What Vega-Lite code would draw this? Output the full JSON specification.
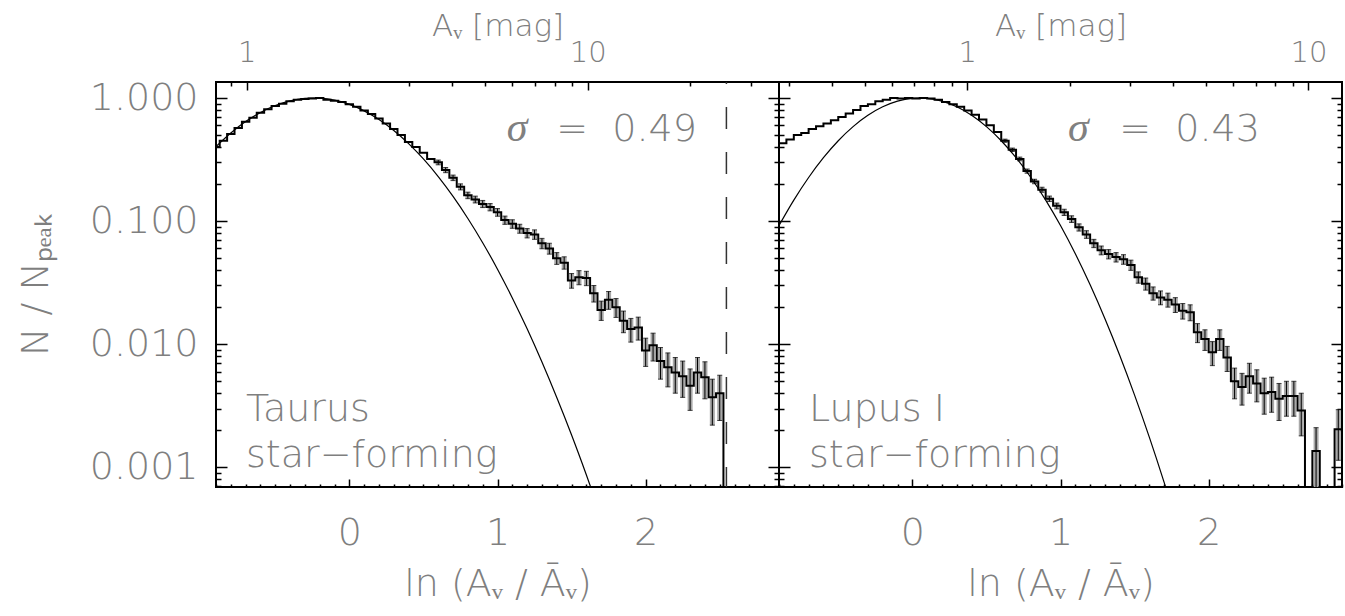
{
"$schema": "https://vega.github.io/schema/vega-lite/v6.json",
"padding": {"left": 16, "top": 9, "right": 0, "bottom": 0},
"background": "white",
"spacing": 0,
"bounds": "flush",
"config": {
  "view": {"stroke": "black", "strokeWidth": 2},
  "axis": {"grid": false, "domain": false, "labelFont": "DejaVu Sans", "labelFontSize": 38, "labelColor": "#7f7f7f", "labelFontWeight": 300, "titleFont": "DejaVu Sans", "titleFontSize": 38, "titleColor": "#7f7f7f", "titleFontWeight": 300, "tickColor": "black", "tickWidth": 1.5, "labelOverlap": false, "labelFlush": false, "labelBound": false}
},
"datasets": {
  "taurus": [
    {"x": -0.90, "y": 0.40}, {"x": -0.85, "y": 0.45}, {"x": -0.80, "y": 0.51}, {"x": -0.75, "y": 0.57},
    {"x": -0.70, "y": 0.64}, {"x": -0.65, "y": 0.69}, {"x": -0.60, "y": 0.76}, {"x": -0.55, "y": 0.81},
    {"x": -0.50, "y": 0.86}, {"x": -0.45, "y": 0.90}, {"x": -0.40, "y": 0.94}, {"x": -0.35, "y": 0.97},
    {"x": -0.30, "y": 0.98}, {"x": -0.25, "y": 0.99}, {"x": -0.20, "y": 1.0}, {"x": -0.15, "y": 0.97},
    {"x": -0.10, "y": 0.95}, {"x": -0.05, "y": 0.93}, {"x": 0.00, "y": 0.89}, {"x": 0.05, "y": 0.85},
    {"x": 0.10, "y": 0.79}, {"x": 0.15, "y": 0.74}, {"x": 0.20, "y": 0.68}, {"x": 0.25, "y": 0.62},
    {"x": 0.30, "y": 0.56}, {"x": 0.35, "y": 0.50}, {"x": 0.40, "y": 0.44}, {"x": 0.45, "y": 0.40},
    {"x": 0.50, "y": 0.36}, {"x": 0.55, "y": 0.32},
    {"x": 0.60, "y": 0.30, "err": 0.0135}, {"x": 0.65, "y": 0.26, "err": 0.0126},
    {"x": 0.70, "y": 0.225, "err": 0.0117}, {"x": 0.75, "y": 0.19, "err": 0.0108},
    {"x": 0.80, "y": 0.162, "err": 0.0099}, {"x": 0.85, "y": 0.150, "err": 0.0096},
    {"x": 0.90, "y": 0.138, "err": 0.0092}, {"x": 0.95, "y": 0.130, "err": 0.0089},
    {"x": 1.00, "y": 0.118, "err": 0.0085}, {"x": 1.05, "y": 0.102, "err": 0.0079},
    {"x": 1.10, "y": 0.095, "err": 0.0076}, {"x": 1.15, "y": 0.087, "err": 0.0073},
    {"x": 1.20, "y": 0.080, "err": 0.0070}, {"x": 1.25, "y": 0.078, "err": 0.0069},
    {"x": 1.30, "y": 0.066, "err": 0.0064}, {"x": 1.35, "y": 0.060, "err": 0.0061},
    {"x": 1.40, "y": 0.050, "err": 0.0055}, {"x": 1.45, "y": 0.046, "err": 0.0053},
    {"x": 1.50, "y": 0.033, "err": 0.0045}, {"x": 1.55, "y": 0.035, "err": 0.0046},
    {"x": 1.60, "y": 0.0345, "err": 0.0046}, {"x": 1.65, "y": 0.026, "err": 0.0040},
    {"x": 1.70, "y": 0.019, "err": 0.0034}, {"x": 1.75, "y": 0.023, "err": 0.0038},
    {"x": 1.80, "y": 0.020, "err": 0.0035}, {"x": 1.85, "y": 0.0155, "err": 0.0031},
    {"x": 1.90, "y": 0.0133, "err": 0.0029}, {"x": 1.95, "y": 0.0137, "err": 0.0029},
    {"x": 2.00, "y": 0.0089, "err": 0.0023}, {"x": 2.05, "y": 0.0098, "err": 0.0025},
    {"x": 2.10, "y": 0.0073, "err": 0.0021}, {"x": 2.15, "y": 0.0065, "err": 0.0020},
    {"x": 2.20, "y": 0.0059, "err": 0.0019}, {"x": 2.25, "y": 0.0055, "err": 0.0018},
    {"x": 2.30, "y": 0.0046, "err": 0.0017}, {"x": 2.35, "y": 0.0059, "err": 0.0019},
    {"x": 2.40, "y": 0.0054, "err": 0.0018}, {"x": 2.45, "y": 0.0037, "err": 0.0015},
    {"x": 2.50, "y": 0.0040, "err": 0.0016}, {"x": 2.55, "y": 0.0001}
  ],
  "taurus_fit": [
    {"x": -0.9, "y": 0.4037}, {"x": -0.8, "y": 0.5204}, {"x": -0.7, "y": 0.6436}, {"x": -0.6, "y": 0.7634},
    {"x": -0.5, "y": 0.8687}, {"x": -0.4, "y": 0.9481}, {"x": -0.3, "y": 0.9925}, {"x": -0.24, "y": 1.0},
    {"x": -0.2, "y": 0.9967}, {"x": -0.1, "y": 0.9600}, {"x": 0.0, "y": 0.8869}, {"x": 0.1, "y": 0.7861},
    {"x": 0.2, "y": 0.6682}, {"x": 0.3, "y": 0.5449}, {"x": 0.4, "y": 0.4261}, {"x": 0.5, "y": 0.3197},
    {"x": 0.6, "y": 0.2301}, {"x": 0.7, "y": 0.1588}, {"x": 0.8, "y": 0.1051}, {"x": 0.9, "y": 0.0668},
    {"x": 1.0, "y": 0.0407}, {"x": 1.1, "y": 0.02377}, {"x": 1.2, "y": 0.01333}, {"x": 1.3, "y": 0.00716},
    {"x": 1.4, "y": 0.00369}, {"x": 1.5, "y": 0.00183}, {"x": 1.6, "y": 0.000867}, {"x": 1.7, "y": 0.000395}
  ],
  "taurus_text": [
    {"x": -0.697, "y": 0.00239, "label": "Taurus"},
    {"x": -0.697, "y": 0.00101, "label": "star−forming"},
    {"x": 1.397, "y": 0.447, "label": "= \u00a00.49"}
  ],
  "taurus_sigma": [{"x": 1.133, "y": 0.447, "label": "σ"}],
  "taurus_cut": [{"x": 2.545}],
  "taurus_av": [{"av": 1}, {"av": 10}],
  "lupus": [
    {"x": -0.925, "y": 0.41}, {"x": -0.875, "y": 0.43}, {"x": -0.825, "y": 0.46}, {"x": -0.775, "y": 0.50},
    {"x": -0.725, "y": 0.52}, {"x": -0.675, "y": 0.56}, {"x": -0.625, "y": 0.59}, {"x": -0.575, "y": 0.62},
    {"x": -0.525, "y": 0.66}, {"x": -0.475, "y": 0.70}, {"x": -0.425, "y": 0.75}, {"x": -0.375, "y": 0.80},
    {"x": -0.325, "y": 0.86}, {"x": -0.275, "y": 0.89}, {"x": -0.225, "y": 0.94}, {"x": -0.175, "y": 0.97},
    {"x": -0.125, "y": 1.0}, {"x": -0.075, "y": 0.99}, {"x": -0.025, "y": 1.0}, {"x": 0.025, "y": 0.99},
    {"x": 0.075, "y": 1.0}, {"x": 0.125, "y": 0.99}, {"x": 0.175, "y": 0.97}, {"x": 0.225, "y": 0.93},
    {"x": 0.275, "y": 0.89}, {"x": 0.325, "y": 0.85}, {"x": 0.375, "y": 0.79}, {"x": 0.425, "y": 0.73},
    {"x": 0.475, "y": 0.67}, {"x": 0.525, "y": 0.60}, {"x": 0.575, "y": 0.53},
    {"x": 0.625, "y": 0.45, "err": 0.0134}, {"x": 0.675, "y": 0.38, "err": 0.0123},
    {"x": 0.725, "y": 0.32, "err": 0.0113}, {"x": 0.775, "y": 0.255, "err": 0.0101},
    {"x": 0.825, "y": 0.21, "err": 0.0092}, {"x": 0.875, "y": 0.18, "err": 0.0085},
    {"x": 0.925, "y": 0.152, "err": 0.0078}, {"x": 0.975, "y": 0.133, "err": 0.0073},
    {"x": 1.025, "y": 0.118, "err": 0.0069}, {"x": 1.075, "y": 0.104, "err": 0.0065},
    {"x": 1.125, "y": 0.089, "err": 0.0060}, {"x": 1.175, "y": 0.078, "err": 0.0056},
    {"x": 1.225, "y": 0.066, "err": 0.0051}, {"x": 1.275, "y": 0.058, "err": 0.0048},
    {"x": 1.325, "y": 0.054, "err": 0.0047}, {"x": 1.375, "y": 0.051, "err": 0.0045},
    {"x": 1.425, "y": 0.049, "err": 0.0044}, {"x": 1.475, "y": 0.044, "err": 0.0042},
    {"x": 1.525, "y": 0.035, "err": 0.0037}, {"x": 1.575, "y": 0.031, "err": 0.0035},
    {"x": 1.625, "y": 0.026, "err": 0.0032}, {"x": 1.675, "y": 0.024, "err": 0.0031},
    {"x": 1.725, "y": 0.023, "err": 0.0030}, {"x": 1.775, "y": 0.021, "err": 0.0029},
    {"x": 1.825, "y": 0.0187, "err": 0.0027}, {"x": 1.875, "y": 0.0182, "err": 0.0027},
    {"x": 1.925, "y": 0.0125, "err": 0.0022}, {"x": 1.975, "y": 0.0110, "err": 0.0021},
    {"x": 2.025, "y": 0.0086, "err": 0.0019}, {"x": 2.075, "y": 0.0110, "err": 0.0021},
    {"x": 2.125, "y": 0.0078, "err": 0.0018}, {"x": 2.175, "y": 0.0050, "err": 0.0014},
    {"x": 2.225, "y": 0.0045, "err": 0.0013}, {"x": 2.275, "y": 0.0055, "err": 0.0015},
    {"x": 2.325, "y": 0.0048, "err": 0.0014}, {"x": 2.375, "y": 0.0040, "err": 0.0013},
    {"x": 2.425, "y": 0.0041, "err": 0.0013}, {"x": 2.475, "y": 0.0036, "err": 0.0012},
    {"x": 2.525, "y": 0.0038, "err": 0.0012}, {"x": 2.575, "y": 0.0038, "err": 0.0012},
    {"x": 2.625, "y": 0.0029, "err": 0.0011}, {"x": 2.675, "y": 0.0001},
    {"x": 2.725, "y": 0.00136, "err": 0.00074}, {"x": 2.775, "y": 0.0001},
    {"x": 2.825, "y": 0.0001}, {"x": 2.875, "y": 0.00204, "err": 0.0009},
    {"x": 2.925, "y": 0.0015}
  ],
  "lupus_fit": [
    {"x": -0.9, "y": 0.0921}, {"x": -0.8, "y": 0.1482}, {"x": -0.7, "y": 0.2262}, {"x": -0.6, "y": 0.3275},
    {"x": -0.5, "y": 0.4497}, {"x": -0.4, "y": 0.5856}, {"x": -0.3, "y": 0.7235}, {"x": -0.2, "y": 0.8478},
    {"x": -0.1, "y": 0.9422}, {"x": 0.0, "y": 0.9934}, {"x": 0.05, "y": 1.0}, {"x": 0.1, "y": 0.9934},
    {"x": 0.2, "y": 0.9422}, {"x": 0.3, "y": 0.8478}, {"x": 0.4, "y": 0.7235}, {"x": 0.5, "y": 0.5856},
    {"x": 0.6, "y": 0.4497}, {"x": 0.7, "y": 0.3275}, {"x": 0.8, "y": 0.2262}, {"x": 0.9, "y": 0.1482},
    {"x": 1.0, "y": 0.0921}, {"x": 1.1, "y": 0.0543}, {"x": 1.2, "y": 0.03036}, {"x": 1.3, "y": 0.0161},
    {"x": 1.4, "y": 0.0081}, {"x": 1.5, "y": 0.00386}, {"x": 1.6, "y": 0.00175}, {"x": 1.7, "y": 0.000751},
    {"x": 1.8, "y": 0.000306}
  ],
  "lupus_text": [
    {"x": -0.697, "y": 0.00239, "label": "Lupus I"},
    {"x": -0.697, "y": 0.00101, "label": "star−forming"},
    {"x": 1.397, "y": 0.447, "label": "= \u00a00.43"}
  ],
  "lupus_sigma": [{"x": 1.12, "y": 0.447, "label": "σ"}],
  "lupus_av": [{"av": 1}, {"av": 10}]
},
"hconcat": [
  {
    "width": 563, "height": 405,
    "resolve": {"scale": {"x": "independent"}, "axis": {"x": "independent", "y": "independent"}},
    "layer": [
      {
        "data": {"name": "taurus"},
        "transform": [{"filter": "datum.err > 0"}],
        "mark": {"type": "errorbar", "ticks": false, "rule": {"strokeWidth": 5, "color": "#a8a8a8"}, "clip": true},
        "encoding": {
          "x": {"field": "x", "type": "quantitative", "scale": {"domain": [-0.9, 2.9], "nice": false, "zero": false}, "axis": null},
          "y": {"field": "y", "type": "quantitative", "scale": {"type": "log", "domain": [0.000692, 1.349], "nice": false}, "axis": null},
          "yError": {"field": "err"}
        }
      },
      {
        "data": {"name": "taurus"},
        "mark": {"type": "line", "interpolate": "step", "color": "black", "strokeWidth": 2, "clip": true},
        "encoding": {
          "x": {"field": "x", "type": "quantitative", "scale": {"domain": [-0.9, 2.9], "nice": false, "zero": false},
            "axis": {"orient": "bottom", "values": [-0.9,-0.8,-0.7,-0.6,-0.5,-0.4,-0.3,-0.2,-0.1,0,0.1,0.2,0.3,0.4,0.5,0.6,0.7,0.8,0.9,1,1.1,1.2,1.3,1.4,1.5,1.6,1.7,1.8,1.9,2,2.1,2.2,2.3,2.4,2.5,2.6,2.7,2.8,2.9],
              "labelExpr": "abs(datum.value - round(datum.value)) < 0.01 ? format(datum.value, 'd') : ''",
              "tickSize": {"condition": {"test": "abs(datum.value - round(datum.value)) < 0.01", "value": -8}, "value": -3},
              "labelPadding": 35, "title": "ln (Aᵥ / Āᵥ)", "titlePadding": 8}},
          "y": {"field": "y", "type": "quantitative", "scale": {"type": "log", "domain": [0.000692, 1.349], "nice": false},
            "axis": {"orient": "left", "values": [0.0007,0.0008,0.0009,0.001,0.002,0.003,0.004,0.005,0.006,0.007,0.008,0.009,0.01,0.02,0.03,0.04,0.05,0.06,0.07,0.08,0.09,0.1,0.2,0.3,0.4,0.5,0.6,0.7,0.8,0.9,1],
              "labelExpr": "abs(log(datum.value)/LN10 - round(log(datum.value)/LN10)) < 0.01 ? format(datum.value, '.3f') : ''",
              "tickSize": {"condition": {"test": "abs(log(datum.value)/LN10 - round(log(datum.value)/LN10)) < 0.01", "value": -11}, "value": -5},
              "labelPadding": 29, "title": "N / Nₚₑₐₖ", "titlePadding": 34}}
        }
      },
      {
        "data": {"name": "taurus_fit"},
        "mark": {"type": "line", "interpolate": "monotone", "color": "black", "strokeWidth": 1.2, "clip": true},
        "encoding": {
          "x": {"field": "x", "type": "quantitative", "scale": {"domain": [-0.9, 2.9], "nice": false, "zero": false}, "axis": null},
          "y": {"field": "y", "type": "quantitative", "scale": {"type": "log", "domain": [0.000692, 1.349], "nice": false},
            "axis": {"orient": "right", "values": [0.0007,0.0008,0.0009,0.001,0.002,0.003,0.004,0.005,0.006,0.007,0.008,0.009,0.01,0.02,0.03,0.04,0.05,0.06,0.07,0.08,0.09,0.1,0.2,0.3,0.4,0.5,0.6,0.7,0.8,0.9,1],
              "labels": false, "title": null,
              "tickSize": {"condition": {"test": "abs(log(datum.value)/LN10 - round(log(datum.value)/LN10)) < 0.01", "value": -11}, "value": -5}}}
        }
      },
      {
        "data": {"name": "taurus"},
        "transform": [{"filter": "datum.err > 0"}],
        "mark": {"type": "errorbar", "ticks": true, "color": "black", "thickness": 1, "clip": true},
        "encoding": {
          "x": {"field": "x", "type": "quantitative", "scale": {"domain": [-0.9, 2.9], "nice": false, "zero": false}, "axis": null},
          "y": {"field": "y", "type": "quantitative", "scale": {"type": "log", "domain": [0.000692, 1.349], "nice": false}, "axis": null},
          "yError": {"field": "err"}
        }
      },
      {
        "data": {"name": "taurus_cut"},
        "mark": {"type": "rule", "strokeDash": [22, 23], "strokeDashOffset": 20, "color": "#333333", "strokeWidth": 1.5},
        "encoding": {
          "x": {"field": "x", "type": "quantitative", "scale": {"domain": [-0.9, 2.9], "nice": false, "zero": false}, "axis": null}
        }
      },
      {
        "data": {"name": "taurus_text"},
        "mark": {"type": "text", "align": "left", "baseline": "alphabetic", "font": "DejaVu Sans", "fontSize": 38, "fontWeight": 300, "color": "#7f7f7f"},
        "encoding": {
          "x": {"field": "x", "type": "quantitative", "scale": {"domain": [-0.9, 2.9], "nice": false, "zero": false}, "axis": null},
          "y": {"field": "y", "type": "quantitative", "scale": {"type": "log", "domain": [0.000692, 1.349], "nice": false}, "axis": null},
          "text": {"field": "label"}
        }
      },
      {
        "data": {"name": "taurus_sigma"},
        "mark": {"type": "text", "align": "center", "baseline": "alphabetic", "font": "Liberation Serif", "fontStyle": "italic", "fontWeight": 300, "fontSize": 42, "color": "#808080"},
        "encoding": {
          "x": {"field": "x", "type": "quantitative", "scale": {"domain": [-0.9, 2.9], "nice": false, "zero": false}, "axis": null},
          "y": {"field": "y", "type": "quantitative", "scale": {"type": "log", "domain": [0.000692, 1.349], "nice": false}, "axis": null},
          "text": {"field": "label"}
        }
      },
      {
        "data": {"name": "taurus_av"},
        "mark": {"type": "point", "opacity": 0},
        "encoding": {
          "x": {"field": "av", "type": "quantitative", "scale": {"type": "log", "domain": [0.8131, 36.35], "nice": false},
            "axis": {"orient": "top", "values": [0.9,1,2,3,4,5,6,7,8,9,10,20,30],
              "labelExpr": "(datum.value == 1 || datum.value == 10) ? format(datum.value, 'd') : ''",
              "tickSize": {"condition": {"test": "datum.value == 1 || datum.value == 10", "value": -8}, "value": -4},
              "labelFontSize": 29, "titleFontSize": 31, "labelPadding": 23, "title": "Aᵥ [mag]", "titlePadding": -8}}
        }
      }
    ]
  },
  {
    "width": 563, "height": 405,
    "resolve": {"scale": {"x": "independent"}, "axis": {"x": "independent", "y": "independent"}},
    "layer": [
      {
        "data": {"name": "lupus"},
        "transform": [{"filter": "datum.err > 0"}],
        "mark": {"type": "errorbar", "ticks": false, "rule": {"strokeWidth": 5, "color": "#a8a8a8"}, "clip": true},
        "encoding": {
          "x": {"field": "x", "type": "quantitative", "scale": {"domain": [-0.9, 2.9], "nice": false, "zero": false}, "axis": null},
          "y": {"field": "y", "type": "quantitative", "scale": {"type": "log", "domain": [0.000692, 1.349], "nice": false}, "axis": null},
          "yError": {"field": "err"}
        }
      },
      {
        "data": {"name": "lupus"},
        "mark": {"type": "line", "interpolate": "step", "color": "black", "strokeWidth": 2, "clip": true},
        "encoding": {
          "x": {"field": "x", "type": "quantitative", "scale": {"domain": [-0.9, 2.9], "nice": false, "zero": false},
            "axis": {"orient": "bottom", "values": [-0.9,-0.8,-0.7,-0.6,-0.5,-0.4,-0.3,-0.2,-0.1,0,0.1,0.2,0.3,0.4,0.5,0.6,0.7,0.8,0.9,1,1.1,1.2,1.3,1.4,1.5,1.6,1.7,1.8,1.9,2,2.1,2.2,2.3,2.4,2.5,2.6,2.7,2.8,2.9],
              "labelExpr": "abs(datum.value - round(datum.value)) < 0.01 ? format(datum.value, 'd') : ''",
              "tickSize": {"condition": {"test": "abs(datum.value - round(datum.value)) < 0.01", "value": -8}, "value": -3},
              "labelPadding": 35, "title": "ln (Aᵥ / Āᵥ)", "titlePadding": 8}},
          "y": {"field": "y", "type": "quantitative", "scale": {"type": "log", "domain": [0.000692, 1.349], "nice": false},
            "axis": {"orient": "left", "values": [0.0007,0.0008,0.0009,0.001,0.002,0.003,0.004,0.005,0.006,0.007,0.008,0.009,0.01,0.02,0.03,0.04,0.05,0.06,0.07,0.08,0.09,0.1,0.2,0.3,0.4,0.5,0.6,0.7,0.8,0.9,1],
              "labels": false, "title": null,
              "tickSize": {"condition": {"test": "abs(log(datum.value)/LN10 - round(log(datum.value)/LN10)) < 0.01", "value": -11}, "value": -5}}}
        }
      },
      {
        "data": {"name": "lupus_fit"},
        "mark": {"type": "line", "interpolate": "monotone", "color": "black", "strokeWidth": 1.2, "clip": true},
        "encoding": {
          "x": {"field": "x", "type": "quantitative", "scale": {"domain": [-0.9, 2.9], "nice": false, "zero": false}, "axis": null},
          "y": {"field": "y", "type": "quantitative", "scale": {"type": "log", "domain": [0.000692, 1.349], "nice": false},
            "axis": {"orient": "right", "values": [0.0007,0.0008,0.0009,0.001,0.002,0.003,0.004,0.005,0.006,0.007,0.008,0.009,0.01,0.02,0.03,0.04,0.05,0.06,0.07,0.08,0.09,0.1,0.2,0.3,0.4,0.5,0.6,0.7,0.8,0.9,1],
              "labels": false, "title": null,
              "tickSize": {"condition": {"test": "abs(log(datum.value)/LN10 - round(log(datum.value)/LN10)) < 0.01", "value": -11}, "value": -5}}}
        }
      },
      {
        "data": {"name": "lupus"},
        "transform": [{"filter": "datum.err > 0"}],
        "mark": {"type": "errorbar", "ticks": true, "color": "black", "thickness": 1, "clip": true},
        "encoding": {
          "x": {"field": "x", "type": "quantitative", "scale": {"domain": [-0.9, 2.9], "nice": false, "zero": false}, "axis": null},
          "y": {"field": "y", "type": "quantitative", "scale": {"type": "log", "domain": [0.000692, 1.349], "nice": false}, "axis": null},
          "yError": {"field": "err"}
        }
      },
      {
        "data": {"name": "lupus_text"},
        "mark": {"type": "text", "align": "left", "baseline": "alphabetic", "font": "DejaVu Sans", "fontSize": 38, "fontWeight": 300, "color": "#7f7f7f"},
        "encoding": {
          "x": {"field": "x", "type": "quantitative", "scale": {"domain": [-0.9, 2.9], "nice": false, "zero": false}, "axis": null},
          "y": {"field": "y", "type": "quantitative", "scale": {"type": "log", "domain": [0.000692, 1.349], "nice": false}, "axis": null},
          "text": {"field": "label"}
        }
      },
      {
        "data": {"name": "lupus_sigma"},
        "mark": {"type": "text", "align": "center", "baseline": "alphabetic", "font": "Liberation Serif", "fontStyle": "italic", "fontWeight": 300, "fontSize": 42, "color": "#808080"},
        "encoding": {
          "x": {"field": "x", "type": "quantitative", "scale": {"domain": [-0.9, 2.9], "nice": false, "zero": false}, "axis": null},
          "y": {"field": "y", "type": "quantitative", "scale": {"type": "log", "domain": [0.000692, 1.349], "nice": false}, "axis": null},
          "text": {"field": "label"}
        }
      },
      {
        "data": {"name": "lupus_av"},
        "mark": {"type": "point", "opacity": 0},
        "encoding": {
          "x": {"field": "av", "type": "quantitative", "scale": {"type": "log", "domain": [0.2805, 12.54], "nice": false},
            "axis": {"orient": "top", "values": [0.3,0.4,0.5,0.6,0.7,0.8,0.9,1,2,3,4,5,6,7,8,9,10],
              "labelExpr": "(datum.value == 1 || datum.value == 10) ? format(datum.value, 'd') : ''",
              "tickSize": {"condition": {"test": "datum.value == 1 || datum.value == 10", "value": -8}, "value": -4},
              "labelFontSize": 29, "titleFontSize": 31, "labelPadding": 23, "title": "Aᵥ [mag]", "titlePadding": -8}}
        }
      }
    ]
  }
]
}
